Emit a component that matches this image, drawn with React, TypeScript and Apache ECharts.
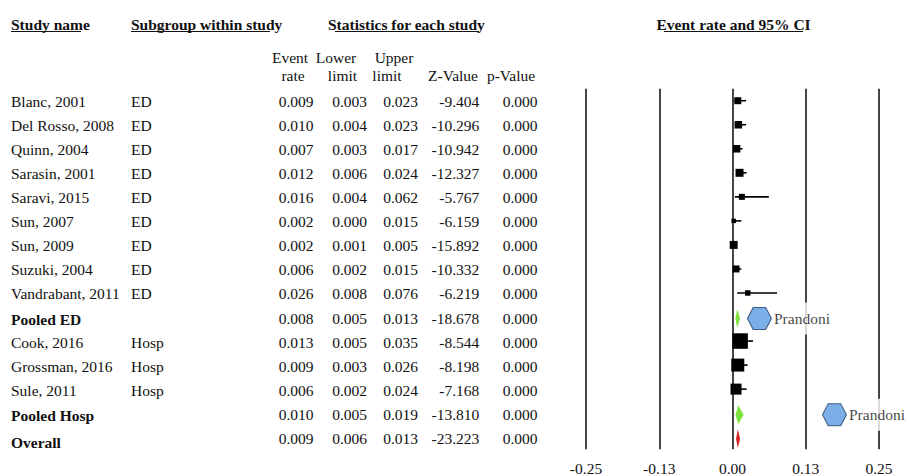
import React, { useEffect, useRef } from "react";
import * as echarts from "echarts";

// ---------- data ----------
const studyNames = [
  "Blanc, 2001",
  "Del Rosso, 2008",
  "Quinn, 2004",
  "Sarasin, 2001",
  "Saravi, 2015",
  "Sun, 2007",
  "Sun, 2009",
  "Suzuki, 2004",
  "Vandrabant, 2011",
  "Pooled ED",
  "Cook, 2016",
  "Grossman, 2016",
  "Sule, 2011",
  "Pooled Hosp",
  "Overall",
];
const subgroups = ["ED", "ED", "ED", "ED", "ED", "ED", "ED", "ED", "ED", "", "Hosp", "Hosp", "Hosp", "", ""];
const rowKinds = [
  "study", "study", "study", "study", "study", "study", "study", "study", "study",
  "pooledED", "study", "study", "study", "pooledHosp", "overall",
];
const eventRate = [0.009, 0.01, 0.007, 0.012, 0.016, 0.002, 0.002, 0.006, 0.026, 0.008, 0.013, 0.009, 0.006, 0.01, 0.009];
const lowerLimit = [0.003, 0.004, 0.003, 0.006, 0.004, 0.0, 0.001, 0.002, 0.008, 0.005, 0.005, 0.003, 0.002, 0.005, 0.006];
const upperLimit = [0.023, 0.023, 0.017, 0.024, 0.062, 0.015, 0.005, 0.015, 0.076, 0.013, 0.035, 0.026, 0.024, 0.019, 0.013];
const zValues = [-9.404, -10.296, -10.942, -12.327, -5.767, -6.159, -15.892, -10.332, -6.219, -18.678, -8.544, -8.198, -7.168, -13.81, -23.223];
const pValues = [0, 0, 0, 0, 0, 0, 0, 0, 0, 0, 0, 0, 0, 0, 0];
// relative study weights (%) -> square area
const studyWeights = [5.1, 5.9, 5.9, 6.7, 3.8, 2.1, 6.7, 5.1, 3.1, 0, 25.2, 17.7, 12.7, 0, 0];
const prandoniName = "Prandoni";
const prandoniRate = [0.046, 0.174];
const prandoniRow = [9, 13];
const axisMin = -0.25;
const axisMax = 0.25;
const axisStep = 0.125;

// ---------- styles ----------
const FONT = "Liberation Serif";
const FS = 15.5;
const INK = "#111";

const colRight = [313.6, 367, 418, 479.3, 537.5];

export default function App() {
  const ref = useRef<HTMLDivElement>(null);

  useEffect(() => {
    if (!ref.current) return;
    const chart = echarts.init(ref.current, undefined, { renderer: "svg" });

    const headerText = (text: string, x: number, y: number, bold: boolean, align = "left") => ({
      type: "text",
      x,
      y,
      style: {
        text,
        fontSize: FS,
        fontFamily: FONT,
        fontWeight: bold ? "bold" : "normal",
        fill: INK,
        align,
        verticalAlign: "middle",
      },
    });
    const underline = (x1: number, x2: number, y: number) => ({
      type: "line",
      shape: { x1, y1: y, x2, y2: y },
      style: { stroke: INK, lineWidth: 1.2 },
    });

    const option: any = {
      animation: false,
      backgroundColor: "#fff",
      grid: {
        left: 586,
        width: 293,
        top: 88.7,
        height: 360.5,
        containLabel: false,
        outerBoundsMode: "none",
      },
      xAxis: {
        type: "value",
        min: axisMin,
        max: axisMax,
        interval: axisStep,
        axisLine: { show: false },
        axisTick: { show: false },
        splitLine: { show: true, lineStyle: { color: "#252525", width: 1.7 } },
        axisLabel: {
          margin: 11,
          fontSize: FS,
          fontFamily: FONT,
          color: INK,
          formatter: (v: number) => v.toFixed(2),
        },
      },
      yAxis: {
        type: "category",
        data: studyNames,
        inverse: true,
        show: false,
      },
      graphic: [
        headerText("Study name", 11, 24, true),
        underline(11, 81, 31.5),
        headerText("Subgroup within study", 131, 24, true),
        underline(131, 270, 31.5),
        headerText("Statistics for each study", 328, 24, true),
        underline(335, 479, 31.5),
        headerText("Event rate and 95% CI", 656.5, 24, true),
        underline(664, 803, 31.5),
        headerText("Event", 290, 57, false, "center"),
        headerText("rate", 293, 75, false, "center"),
        headerText("Lower", 336, 57, false, "center"),
        headerText("limit", 342.5, 75, false, "center"),
        headerText("Upper", 394, 57, false, "center"),
        headerText("limit", 387, 75, false, "center"),
        headerText("Z-Value", 453, 75, false, "center"),
        headerText("p-Value", 511, 75, false, "center"),
      ],
      series: [
        {
          type: "custom",
          name: "table",
          clip: false,
          silent: true,
          data: studyNames.map((_, i) => [0, i]),
          renderItem: (params: any, api: any) => {
            const i = params.dataIndex;
            const y = api.coord([0, i])[1];
            const kind = rowKinds[i];
            const bold = kind !== "study";
            const ty = y + 1;
            const mk = (text: string, x: number, yy: number, align: string, b: boolean) => ({
              type: "text",
              style: {
                text,
                x,
                y: yy,
                fontSize: FS,
                fontFamily: FONT,
                fontWeight: b ? "bold" : "normal",
                fill: INK,
                align,
                verticalAlign: "middle",
              },
            });
            const vals = [
              eventRate[i].toFixed(3),
              lowerLimit[i].toFixed(3),
              upperLimit[i].toFixed(3),
              zValues[i].toFixed(3),
              pValues[i].toFixed(3),
            ];
            const children: any[] = [
              mk(studyNames[i], 11, kind === "overall" ? y + 5.5 : ty + (bold ? 1.5 : 0), "left", bold),
              mk(subgroups[i], 131, ty, "left", false),
            ];
            vals.forEach((v, c) => children.push(mk(v, colRight[c], ty, "right", false)));
            return { type: "group", children };
          },
        },
        {
          type: "custom",
          name: "marks",
          clip: false,
          z: 3,
          data: eventRate.map((v, i) => [v, i]),
          renderItem: (params: any, api: any) => {
            const i = params.dataIndex;
            const pt = api.coord([eventRate[i], i]);
            const xc = pt[0];
            const y = pt[1];
            const xl = api.coord([lowerLimit[i], i])[0];
            const xu = api.coord([upperLimit[i], i])[0];
            const kind = rowKinds[i];
            if (kind === "study") {
              const s = Math.sqrt(studyWeights[i]) * 3.09;
              return {
                type: "group",
                children: [
                  {
                    type: "line",
                    shape: { x1: xl, y1: y, x2: xu, y2: y },
                    style: { stroke: "#000", lineWidth: 1.6 },
                  },
                  {
                    type: "rect",
                    shape: { x: xc - s / 2, y: y - s / 2, width: s, height: s },
                    style: { fill: "#000" },
                  },
                ],
              };
            }
            const h = 9.3;
            const yy = y + 1.5;
            const fill = kind === "overall" ? "#d42a2a" : "#7ee23c";
            return {
              type: "polygon",
              shape: { points: [[xl, yy], [xc, yy - h], [xu, yy], [xc, yy + h]] },
              style: { fill },
            };
          },
        },
        {
          type: "scatter",
          name: prandoniName,
          z: 4,
          symbol: "path://M0,50 L24,0 L76,0 L100,50 L76,100 L24,100 Z",
          symbolSize: [24, 22],
          symbolOffset: [0, 1.5],
          itemStyle: { color: "#5b9be2", borderColor: "#1f3a63", borderWidth: 1 },
          data: prandoniRate.map((v, k) => [v, prandoniRow[k]]),
          label: {
            show: true,
            position: "right",
            distance: 1,
            formatter: prandoniName,
            fontSize: FS,
            fontFamily: FONT,
            color: INK,
            backgroundColor: "#fff",
            padding: [8, 2, 8, 1],
          },
        },
      ],
    };

    chart.setOption(option);
    return () => chart.dispose();
  }, []);

  return (
    <div
      ref={ref}
      style={{ position: "absolute", left: 0, top: 0, width: 910, height: 476, background: "#fff" }}
    />
  );
}
